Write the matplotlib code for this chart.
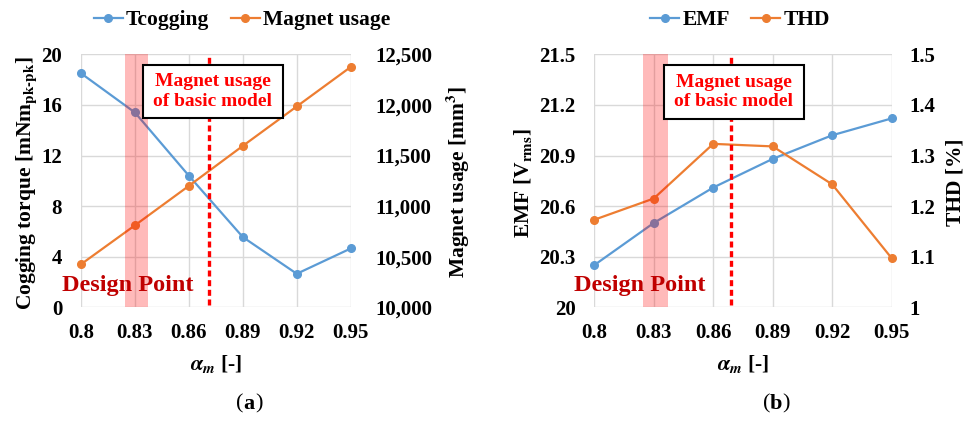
import matplotlib
matplotlib.use("Agg")
import matplotlib.pyplot as plt
from matplotlib.lines import Line2D
from matplotlib.patches import Rectangle

plt.rcParams["font.family"] = ["Liberation Serif", "DejaVu Serif"]
plt.rcParams["font.weight"] = "bold"
plt.rcParams["mathtext.fontset"] = "stix"

# Data
alpha_m = [0.80, 0.83, 0.86, 0.89, 0.92, 0.95]
x_ticklabels = ["0.8", "0.83", "0.86", "0.89", "0.92", "0.95"]

t_cogging = [18.5, 15.4, 10.4, 5.55, 2.65, 4.65]
magnet_usage = [10425, 10810, 11200, 11595, 11985, 12375]

emf = [20.25, 20.50, 20.71, 20.88, 21.02, 21.12]
thd = [1.173, 1.215, 1.323, 1.318, 1.243, 1.097]

design_band = (0.8245, 0.837)
basic_model_x_a = 0.8714
basic_model_x_b = 0.8688

BLUE = "#5B9BD5"
ORANGE = "#ED7D31"
GRID = "#D9D9D9"
FS = 15

fig = plt.figure(figsize=(9.71, 4.29), dpi=100)


def style_axis(ax, ypad):
    for s in ax.spines.values():
        s.set_visible(False)
    ax.tick_params(axis="x", length=0, labelsize=FS, pad=11.5)
    ax.tick_params(axis="y", length=0, labelsize=FS, pad=ypad)
    for lab in ax.get_xticklabels() + ax.get_yticklabels():
        lab.set_fontweight("bold")


def panel(rect, y1, y2, lim1, lim2, ticks1, ticks2, tl1, tl2, lab1, lab2,
          names, band, vline, box_x, opts):
    ax = fig.add_axes(rect)
    ax2 = ax.twinx()
    ax.set_zorder(ax2.get_zorder() + 1)
    ax.patch.set_visible(False)

    ax.set_xlim(alpha_m[0], alpha_m[-1])
    ax.set_xticks(alpha_m)
    ax.set_xticklabels(x_ticklabels)
    ax.set_ylim(*lim1)
    ax.set_yticks(ticks1)
    ax.set_yticklabels(tl1)
    ax2.set_ylim(*lim2)
    ax2.set_yticks(ticks2)
    ax2.set_yticklabels(tl2)
    ax.grid(True, color=GRID, lw=1.0, zorder=0)
    ax.set_axisbelow(True)

    ax.plot(alpha_m, y1, color=BLUE, lw=1.6, marker="o", ms=5.5, zorder=3,
            clip_on=False)
    # second series uses the right-hand scale
    ax.plot(alpha_m, y2, color=ORANGE, lw=1.6, marker="o", ms=5.5, zorder=3,
            transform=ax2.transData, clip_on=False)

    ax.axvspan(band[0], band[1], color="#FF0000", alpha=0.27, lw=0, zorder=4)
    ax.axvline(vline, ymax=0.995, ymin=0.01, color="#FF0000", lw=2.4,
               dashes=(1.8, 1.1), zorder=5)

    y0, ytop = lim1
    span = ytop - y0
    bx = Rectangle((box_x[0], y0 + span * opts["box_y"][0]),
                   box_x[1] - box_x[0],
                   span * (opts["box_y"][1] - opts["box_y"][0]),
                   facecolor="white", edgecolor="black", lw=1.5, zorder=6)
    ax.add_patch(bx)
    ax.text((box_x[0] + box_x[1]) / 2,
            y0 + span * (opts["box_y"][0] + opts["box_y"][1]) / 2,
            "Magnet usage\nof basic model", color="#FF0000", ha="center",
            va="center", fontsize=14, fontweight="bold", linespacing=1.2,
            zorder=7)
    ax.text(0.7897, y0 + span * 0.088, "Design Point", color="#C00000",
            ha="left", va="center", fontsize=17.5, fontweight="bold",
            zorder=7, clip_on=False)

    ax.set_ylabel(lab1, fontsize=15.5, fontweight="bold")
    ax2.set_ylabel(lab2, fontsize=15.5, fontweight="bold")
    ax.yaxis.set_label_coords(opts["ylab"][0], 0.49)
    ax2.yaxis.set_label_coords(opts["ylab"][1], 0.495)
    ax.yaxis.label.set_va("center")
    ax2.yaxis.label.set_va("center")
    ax.set_xlabel(r"$\alpha_m$ [-]", fontsize=15.5, fontweight="bold",
                  labelpad=7)
    style_axis(ax, 13.5)
    style_axis(ax2, opts["rpad"])

    handles = [Line2D([], [], color=BLUE, lw=1.6, marker="o", ms=5.5),
               Line2D([], [], color=ORANGE, lw=1.6, marker="o", ms=5.5)]
    cx = rect[0] + rect[2] / 2 + opts["leg_dx"]
    fig.legend(handles, names, loc="center", bbox_to_anchor=(cx, 0.953),
               ncol=2, frameon=False, handlelength=1.35,
               handletextpad=0.15, columnspacing=1.0,
               prop={"weight": "bold", "size": 15.5})
    tx = rect[0] + rect[2] / 2 + opts["tag_dx"]
    fig.text(tx, 0.058, "(", fontsize=16, ha="right", va="center",
             fontweight="normal")
    fig.text(tx, 0.058, opts["tag"], fontsize=16, ha="left", va="center",
             fontweight="bold")
    fig.text(tx + 0.0125, 0.058, ")", fontsize=16, ha="left", va="center",
             fontweight="normal")
    return ax, ax2


panel([0.0834, 0.2837, 0.2778, 0.5897], t_cogging, magnet_usage,
      (0, 20), (10000, 12500), [0, 4, 8, 12, 16, 20],
      [10000, 10500, 11000, 11500, 12000, 12500],
      ["0", "4", "8", "12", "16", "20"],
      ["10,000", "10,500", "11,000", "11,500", "12,000", "12,500"],
      r"Cogging torque [mNm$_\mathbf{pk\text{-}pk}$]",
      r"Magnet usage [mm$^\mathbf{3}$]",
      ["Tcogging", "Magnet usage"], design_band, basic_model_x_a,
      (0.8343, 0.9122),
      {"tag": "a", "leg_dx": 0.027, "tag_dx": 0.028, "rpad": 18,
       "ylab": (-0.20, 1.398), "box_y": (0.747, 0.958)})

panel([0.612, 0.2837, 0.3063, 0.5897], emf, thd,
      (20, 21.5), (1.0, 1.5), [20, 20.3, 20.6, 20.9, 21.2, 21.5],
      [1.0, 1.1, 1.2, 1.3, 1.4, 1.5],
      ["20", "20.3", "20.6", "20.9", "21.2", "21.5"],
      ["1", "1.1", "1.2", "1.3", "1.4", "1.5"],
      r"EMF [V$_\mathbf{rms}$]", "THD [%]",
      ["EMF", "THD"], design_band, basic_model_x_b,
      (0.835, 0.9056),
      {"tag": "b", "leg_dx": -0.003, "tag_dx": 0.028, "rpad": 13,
       "ylab": (-0.24, 1.213), "box_y": (0.744, 0.958)})

fig.savefig("out.png", dpi=100)
